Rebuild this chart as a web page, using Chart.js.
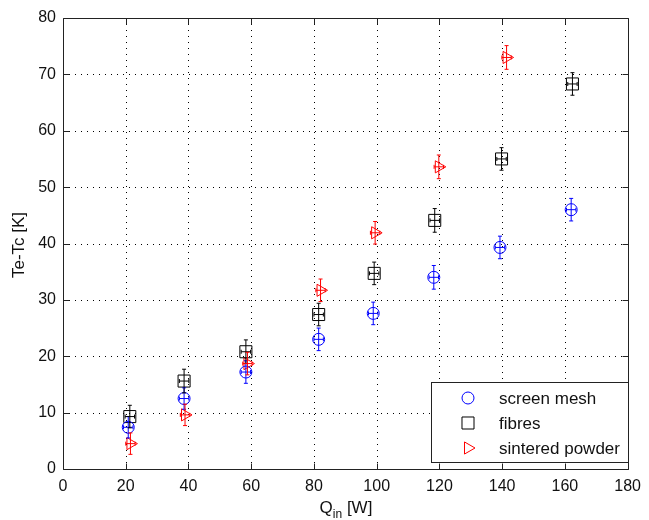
<!DOCTYPE html>
<html>
<head>
<meta charset="utf-8">
<script src="https://cdn.jsdelivr.net/npm/chart.js@4.4.1/dist/chart.umd.min.js"></script>
<style>
  html, body { margin: 0; padding: 0; background: #fff; }
</style>
</head>
<body>
<canvas id="chart1" width="649" height="520"></canvas>
<script>
// values
const qMesh = [20.8, 38.6, 58.3, 81.5, 98.9, 118.2, 139.3, 162.0];
const dtMesh = [7.4, 12.5, 17.2, 23.0, 27.6, 34.0, 39.3, 46.0];
const errMesh = [1.9, 1.9, 2.0, 2.0, 2.0, 2.1, 2.0, 2.0];

const qFibres = [21.3, 38.6, 58.3, 81.5, 99.2, 118.5, 139.8, 162.4];
const dtFibres = [9.3, 15.6, 20.8, 27.4, 34.7, 44.1, 55.0, 68.3];
const errFibres = [2.0, 2.1, 2.1, 2.0, 2.0, 2.1, 2.0, 2.0];

const qPowder = [21.5, 38.9, 58.8, 82.1, 99.5, 119.8, 141.4];
const dtPowder = [4.5, 9.6, 18.7, 31.7, 41.9, 53.6, 73.0];
const errPowder = [1.9, 1.9, 2.0, 2.0, 2.0, 2.1, 2.1];

const qErr = 1.5;
const xTicks = [0, 20, 40, 60, 80, 100, 120, 140, 160, 180];
const yTicks = [0, 10, 20, 30, 40, 50, 60, 70, 80];

const tickFont = "'Liberation Sans Narrow', 'Arial Narrow', 'Liberation Sans', Arial, sans-serif";
const textFont = "'Liberation Sans', Arial, sans-serif";

function pts(xs, ys) {
  return xs.map((v, i) => ({x: v, y: ys[i]}));
}

// dotted grid, box and inner tick marks like matlab
const matlabAxes = {
  id: 'matlabAxes',
  beforeDatasetsDraw(chart) {
    const {ctx, chartArea: a, scales: {x, y}} = chart;
    ctx.save();
    ctx.strokeStyle = '#000';
    ctx.lineWidth = 1;
    ctx.setLineDash([1, 5]);
    ctx.beginPath();
    xTicks.forEach(v => {
      const px = Math.round(x.getPixelForValue(v)) + 0.5;
      if (v == x.min || v == x.max) return;
      ctx.moveTo(px, a.top); ctx.lineTo(px, a.bottom);
    });
    yTicks.forEach(v => {
      const py = Math.round(y.getPixelForValue(v)) + 0.5;
      if (v == y.min || v == y.max) return;
      ctx.moveTo(a.left, py); ctx.lineTo(a.right, py);
    });
    ctx.stroke();
    ctx.setLineDash([]);
    ctx.strokeStyle = '#222';
    ctx.beginPath();
    const L = Math.round(a.left) + 0.5, R = Math.round(a.right) + 0.5;
    const T = Math.round(a.top) + 0.5, B = Math.round(a.bottom) + 0.5;
    ctx.rect(L, T, R - L, B - T);
    xTicks.forEach(v => {
      const px = Math.round(x.getPixelForValue(v)) + 0.5;
      ctx.moveTo(px, B); ctx.lineTo(px, B - 6);
      ctx.moveTo(px, T); ctx.lineTo(px, T + 6);
    });
    yTicks.forEach(v => {
      const py = Math.round(y.getPixelForValue(v)) + 0.5;
      ctx.moveTo(L, py); ctx.lineTo(L + 6, py);
      ctx.moveTo(R, py); ctx.lineTo(R - 6, py);
    });
    ctx.stroke();
    ctx.restore();
  }
};

const errorBars = {
  id: 'errorBars',
  afterDatasetsDraw(chart) {
    const {ctx, scales: {x, y}} = chart;
    ctx.save();
    ctx.lineWidth = 1;
    chart.data.datasets.forEach(ds => {
      ctx.strokeStyle = ds.borderColor;
      ctx.beginPath();
      ds.data.forEach((p, i) => {
        const px = x.getPixelForValue(p.x), py = y.getPixelForValue(p.y);
        const y1 = y.getPixelForValue(p.y + ds.yErr[i]);
        const y2 = y.getPixelForValue(p.y - ds.yErr[i]);
        const x1 = x.getPixelForValue(p.x - qErr);
        const x2 = x.getPixelForValue(p.x + qErr);
        ctx.moveTo(px, y1); ctx.lineTo(px, y2);
        ctx.moveTo(px - 2, y1); ctx.lineTo(px + 2, y1);
        ctx.moveTo(px - 2, y2); ctx.lineTo(px + 2, y2);
        ctx.moveTo(x1, py); ctx.lineTo(x2, py);
        ctx.moveTo(x1, py - 2); ctx.lineTo(x1, py + 2);
        ctx.moveTo(x2, py - 2); ctx.lineTo(x2, py + 2);
      });
      ctx.stroke();
    });
    ctx.restore();
  }
};

function marker(ctx, style, r, cx, cy) {
  ctx.beginPath();
  if (style === 'circle') {
    ctx.arc(cx, cy, r, 0, Math.PI * 2);
  } else if (style === 'rect') {
    const s = r * Math.SQRT1_2;
    ctx.rect(cx - s, cy - s, 2 * s, 2 * s);
  } else {
    ctx.moveTo(cx + r, cy);
    ctx.lineTo(cx - 0.5 * r, cy + 0.866 * r);
    ctx.lineTo(cx - 0.5 * r, cy - 0.866 * r);
    ctx.closePath();
  }
  ctx.stroke();
}

const boxLegend = {
  id: 'boxLegend',
  afterDraw(chart) {
    const ctx = chart.ctx;
    ctx.save();
    ctx.fillStyle = '#fff';
    ctx.strokeStyle = '#222';
    ctx.lineWidth = 1;
    ctx.fillRect(431.5, 382.5, 197, 80);
    ctx.strokeRect(431.5, 382.5, 197, 80);
    chart.data.datasets.forEach((ds, i) => {
      const yy = 398 + i * 25;
      ctx.strokeStyle = ds.borderColor;
      marker(ctx, ds.pointStyle, ds.pointRadius, 468, yy);
      ctx.fillStyle = '#111';
      ctx.font = '17px ' + textFont;
      ctx.textBaseline = 'middle';
      ctx.textAlign = 'left';
      ctx.fillText(ds.label, 499, yy + 1);
    });

    // axis titles
    ctx.fillStyle = '#111';
    ctx.textBaseline = 'alphabetic';
    ctx.font = '17px ' + textFont;
    const w1 = ctx.measureText('Q').width;
    const w3 = ctx.measureText(' [W]').width;
    ctx.font = '12px ' + textFont;
    const w2 = ctx.measureText('in').width;
    let sx = 346 - (w1 + w2 + w3) / 2;
    ctx.font = '17px ' + textFont;
    ctx.fillText('Q', sx, 513);
    ctx.font = '12px ' + textFont;
    ctx.fillText('in', sx + w1, 518);
    ctx.font = '17px ' + textFont;
    ctx.fillText(' [W]', sx + w1 + w2, 513);

    ctx.translate(24, 245);
    ctx.rotate(-Math.PI / 2);
    ctx.textAlign = 'center';
    ctx.fillText('Te-Tc [K]', 0, 0);
    ctx.restore();
  }
};

const ctx = document.getElementById('chart1').getContext('2d');
const chart1 = new Chart(ctx, {
  type: 'scatter',
  data: {
    datasets: [
      {
        label: 'screen mesh',
        data: pts(qMesh, dtMesh),
        yErr: errMesh,
        borderColor: '#0000ff',
        backgroundColor: 'rgba(0,0,0,0)',
        pointStyle: 'circle',
        pointRadius: 6,
        pointBorderWidth: 1
      },
      {
        label: 'fibres',
        data: pts(qFibres, dtFibres),
        yErr: errFibres,
        borderColor: '#000000',
        backgroundColor: 'rgba(0,0,0,0)',
        pointStyle: 'rect',
        pointRadius: 8.5,
        pointBorderWidth: 1
      },
      {
        label: 'sintered powder',
        data: pts(qPowder, dtPowder),
        yErr: errPowder,
        borderColor: '#ff0000',
        backgroundColor: 'rgba(0,0,0,0)',
        pointStyle: 'triangle',
        rotation: 90,
        pointRadius: 7,
        pointBorderWidth: 1
      }
    ]
  },
  options: {
    responsive: false,
    animation: false,
    events: [],
    layout: {
      padding: {top: 18, right: 13, left: 0, bottom: 0}
    },
    scales: {
      x: {
        type: 'linear',
        min: 0,
        max: 180,
        afterFit: s => { s.height = 51; },
        afterBuildTicks: s => { s.ticks = xTicks.map(v => ({value: v})); },
        ticks: {
          padding: 8,
          color: '#111',
          font: {family: tickFont, size: 16},
          maxRotation: 0
        },
        grid: {display: false, drawTicks: false},
        border: {display: false}
      },
      y: {
        min: 0,
        max: 80,
        afterFit: s => { s.width = 63; },
        afterBuildTicks: s => { s.ticks = yTicks.map(v => ({value: v})); },
        ticks: {
          padding: 7,
          color: '#111',
          font: {family: tickFont, size: 16}
        },
        grid: {display: false, drawTicks: false},
        border: {display: false}
      }
    },
    plugins: {
      legend: {display: false},
      tooltip: {enabled: false}
    }
  },
  plugins: [matlabAxes, errorBars, boxLegend]
});
</script>
</body>
</html>
